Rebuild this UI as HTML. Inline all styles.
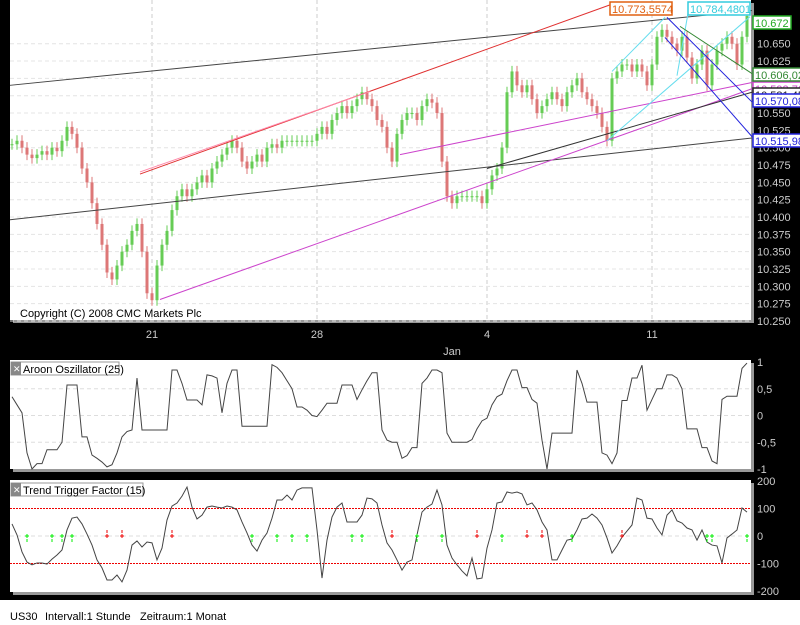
<!DOCTYPE html>
<html><head><meta charset="utf-8"><style>
html,body{margin:0;padding:0;background:#000;width:800px;height:625px;overflow:hidden;font-family:"Liberation Sans",sans-serif}
svg{display:block}
</style></head><body>
<svg id="chart" width="800" height="625" xmlns="http://www.w3.org/2000/svg" font-family="Liberation Sans, sans-serif">
<rect x="0" y="0" width="800" height="625" fill="#000"/>
<rect x="0" y="600" width="800" height="25" fill="#fff"/>
<text x="10" y="620" font-size="11" fill="#000">US30</text>
<text x="45" y="620" font-size="11" fill="#000">Intervall:1 Stunde</text>
<text x="140" y="620" font-size="11" fill="#000">Zeitraum:1 Monat</text>
<g id="main"></g>
<g id="aroon"></g>
<g id="ttf"></g>
</svg>
<script>
const closes=[10.505,10.51,10.50,10.49,10.485,10.49,10.495,10.49,10.50,10.495,
10.51,10.53,10.52,10.50,10.47,10.45,10.42,10.39,10.36,10.32,
10.31,10.33,10.35,10.36,10.38,10.39,10.35,10.29,10.28,10.33,
10.36,10.38,10.41,10.43,10.44,10.43,10.44,10.45,10.46,10.45,
10.47,10.48,10.49,10.50,10.51,10.50,10.48,10.47,10.48,10.49,
10.48,10.50,10.505,10.50,10.51,10.51,10.51,10.51,10.51,10.51,
10.51,10.52,10.53,10.52,10.54,10.55,10.56,10.55,10.56,10.57,
10.58,10.57,10.56,10.54,10.53,10.50,10.48,10.52,10.54,10.55,
10.55,10.54,10.56,10.57,10.565,10.55,10.48,10.43,10.42,10.43,
10.43,10.43,10.43,10.43,10.42,10.44,10.46,10.47,10.50,10.58,
10.61,10.59,10.58,10.59,10.57,10.55,10.56,10.57,10.58,10.57,
10.56,10.58,10.59,10.60,10.58,10.57,10.56,10.55,10.53,10.51,
10.60,10.61,10.62,10.62,10.61,10.62,10.61,10.59,10.62,10.66,
10.67,10.66,10.65,10.64,10.66,10.63,10.60,10.62,10.64,10.59,
10.62,10.64,10.65,10.66,10.65,10.62,10.66,10.69];
const aroonValues=[0.35,0.2,0.05,-0.7,-1,-0.9,-0.9,-0.64,-0.64,-0.64,
-0.5,0.57,0.57,0.57,-0.4,-0.4,-0.74,-0.8,-0.87,-0.96,
-0.92,-0.7,-0.4,-0.3,-0.27,0.7,-0.27,-0.27,-0.27,-0.27,
-0.27,-0.27,0.85,0.85,0.6,0.29,0.29,0.29,0.2,0.76,
0.74,0.7,0.05,0.6,0.85,0.85,-0.2,-0.2,-0.2,-0.2,
-0.2,-0.2,0.95,0.9,0.8,0.65,0.5,0.16,0.16,0.1,
0,-0.02,0.1,0.23,0.23,0.23,0.57,0.57,0.57,0.3,
0.48,0.65,0.8,0.8,-0.27,-0.46,-0.5,-0.5,-0.8,-0.75,
-0.6,-0.6,0.6,0.7,0.85,0.85,0.8,-0.33,-0.5,-0.5,
-0.5,-0.5,-0.45,-0.25,-0.1,-0.05,0.2,0.35,0.4,0.65,
0.85,0.85,0.52,0.52,0.3,0.23,-0.46,-1,-0.33,-0.33,
-0.33,-0.33,-0.33,0.85,0.6,0.25,0.25,0.25,-0.7,-0.74,
-0.9,-0.7,0.28,0.28,0.7,0.7,0.94,0.1,0.3,0.5,
0.5,0.76,0.76,0.7,0.5,-0.25,-0.25,-0.25,-0.6,-0.6,
-0.85,-0.9,0.3,0.36,0.36,0.36,0.88,0.98];
const ttfValues=[44,4,-58,-95,-105,-98,-98,-102,-84,-69,
-51,22,65,69,44,7,-33,-87,-116,-160,
-160,-142,-167,-124,-33,-18,-40,-22,-25,-87,
-44,58,109,120,145,178,105,62,76,105,
109,105,102,109,105,95,51,11,-33,-55,
-15,11,65,131,131,149,131,167,175,175,
175,22,-153,-15,69,105,120,51,51,51,
76,138,135,120,40,-25,-51,-87,-124,-95,
-87,4,87,105,116,167,113,-33,-80,-105,
-127,-145,-80,-156,-153,-44,22,120,124,160,
156,160,153,113,120,95,51,22,-87,-87,
-51,-15,-11,22,62,65,80,65,40,-7,
-62,-36,-4,18,40,138,131,65,62,29,
4,76,95,55,47,29,22,-15,22,-22,
-33,-36,-98,-7,7,22,102,87];
const buySignals=[3,8,10,12,48,53,56,59,68,70,81,86,98,112,139,140,147];
const sellSignals=[19,22,32,76,93,103,106,122];
const priceTicks=["10.250","10.275","10.300","10.325","10.350","10.375","10.400","10.425","10.450","10.475","10.500","10.525","10.550","10.575","10.600","10.625","10.650"];
const aroonTicks=[1,0.5,0,-0.5,-1];
const aroonTickLabels=["1","0,5","0","-0,5","-1"];
const ttfTicks=[200,100,0,-100,-200];
const dateLabels=["21","28","4","11"];
const dateIdx=[28,61,95,128];
const trendLines=[
 [-0.4,10.59,148,10.698,"#444"],
 [-0.4,10.396,148,10.514,"#444"],
 [25.6,10.462,119.6,10.706,"#e03030"],
 [25.6,10.465,71.6,10.581,"#ff88aa"],
 [29.6,10.281,148,10.585,"#cc44cc"],
 [77.6,10.49,148,10.594,"#cc44cc"],
 [95,10.47,148,10.58,"#333"],
 [119,10.51,147.6,10.689,"#66ddee"],
 [120,10.61,130.6,10.688,"#66ddee"],
 [133,10.604,135.6,10.71,"#66ddee"],
 [131,10.688,148,10.566,"#2222dd"],
 [130.6,10.659,148,10.516,"#2222dd"],
 [133.6,10.675,148,10.607,"#338833"]
];
const NS="http://www.w3.org/2000/svg";
function mk(tag,attrs,parent){const e=document.createElementNS(NS,tag);for(const k in attrs)e.setAttribute(k,attrs[k]);parent.appendChild(e);return e;}
const X=i=>12+i*5;
const PL=10,PR=751;
const yP=v=>321-(v-10.25)/0.025*17.33;
const yA=v=>415.5-v*53.5;
const yT=v=>536-v*0.275;
const main=document.getElementById('main'),ar=document.getElementById('aroon'),tt=document.getElementById('ttf');
const svg=document.getElementById('chart');
function panel(g,y0,y1,name){
 let r=mk('rect',{x:PL,y:y0,width:PR-PL,height:y1-y0,fill:'#fff'},g);
 
 
 mk('rect',{x:PR,y:y0+3,width:3,height:y1-y0,fill:'#999'},g);
 mk('rect',{x:PL+3,y:y1,width:PR-PL,height:3,fill:'#999'},g);
}
panel(main,0,320,'price-panel');panel(ar,360,469,'aroon-panel');panel(tt,480,592,'ttf-panel');
dateIdx.forEach((d,k)=>{
 [[0,320],[360,469],[480,592]].forEach(([a,b])=>mk('line',{x1:X(d),x2:X(d),y1:a,y2:b,stroke:'#ccc','stroke-dasharray':'4,3'},main));
 let t=mk('text',{x:X(d),y:338,'font-size':11,fill:'#ccc','text-anchor':'middle'},svg);t.textContent=dateLabels[k];
 
 
});
let jan=mk('text',{x:452,y:355,'font-size':11,fill:'#ccc','text-anchor':'middle'},svg);jan.textContent='Jan';


priceTicks.forEach(s=>{const v=parseFloat(s);const y=yP(v);
 mk('line',{x1:PL,x2:PR,y1:y,y2:y,stroke:'#e4e4e4','stroke-dasharray':'4,3'},main);
 let t=mk('text',{x:757,y:y+4,'font-size':11,fill:'#ccc'},svg);t.textContent=s;
 
 
});
closes.forEach((c,i)=>{const o=i?closes[i-1]:c;const hi=Math.max(o,c)+0.008,lo=Math.min(o,c)-0.008;
 const col=c>=o?'#66cc55':'#dd7777';const x=X(i);
 const g=mk('g',{},main);
 
 
 mk('line',{x1:x,x2:x,y1:yP(hi),y2:yP(lo),stroke:col},g);
 const y1=yP(Math.max(o,c)),y2=yP(Math.min(o,c));
 mk('rect',{x:x-1.5,y:y1,width:3,height:Math.max(1,y2-y1),fill:col},g);
});
trendLines.forEach(l=>{let e=mk('line',{x1:X(l[0]),y1:yP(l[1]),x2:X(l[2]),y2:yP(l[3]),stroke:l[4],'stroke-width':1},main);
 
 
});
let cp=mk('text',{x:20,y:317,'font-size':11,fill:'#000'},main);cp.textContent='Copyright (C) 2008 CMC Markets Plc';


function box(x,y,w,txt,col,name){const g=mk('g',{},svg);
 
 
 mk('rect',{x:x,y:y,width:w,height:13,fill:'#fff',stroke:col,'stroke-width':1.5},g);
 let t=mk('text',{x:x+2,y:y+11,'font-size':11,fill:col},g);t.textContent=txt;}
box(610,2,62,'10.773,5574','#e06010','red-line-value');
box(688,2,62,'10.784,4801','#33ccdd','cyan-line-value');
box(753,134,52,'10.515,98','#2222dd','blue-line-value-2');
box(753,82,52,'10.593,76','#cc44cc','magenta-line-value');
box(753,88,52,'10.581,45','#222','black-line-value');
box(753,94,52,'10.570,08','#2222dd','blue-line-value');
box(753,68,52,'10.606,02','#338833','green-line-value');
box(753,16,38,'10.672','#22aa22','last-price');
aroonTicks.forEach((v,k)=>{const y=yA(v);
 if(Math.abs(v)<1)mk('line',{x1:PL,x2:PR,y1:y,y2:y,stroke:'#ddd','stroke-dasharray':'4,3'},ar);
 let t=mk('text',{x:757,y:y+4,'font-size':11,fill:'#ccc'},svg);t.textContent=aroonTickLabels[k];
 
 
});
let ap=mk('polyline',{points:aroonValues.map((v,i)=>X(i)+','+yA(v)).join(' '),fill:'none',stroke:'#444','stroke-width':1},ar);


ttfTicks.forEach(v=>{const y=yT(v);
 if(Math.abs(v)===100)mk('line',{x1:PL,x2:PR,y1:y,y2:y,stroke:'#e00','stroke-dasharray':'2,1'},tt);
 if(v===0)mk('line',{x1:PL,x2:PR,y1:y,y2:y,stroke:'#ddd','stroke-dasharray':'4,3'},tt);
 let t=mk('text',{x:757,y:y+4,'font-size':11,fill:'#ccc'},svg);t.textContent=String(v);
 
 
});
let tp=mk('polyline',{points:ttfValues.map((v,i)=>X(i)+','+yT(v)).join(' '),fill:'none',stroke:'#444','stroke-width':1},tt);


function sig(i,col,name){const x=X(i),y=yT(0);const g=mk('g',{stroke:col,'stroke-width':1},tt);
 
 
 mk('line',{x1:x-2,x2:x+2,y1:y,y2:y},g);mk('line',{x1:x,x2:x,y1:y-2,y2:y+2},g);
 mk('line',{x1:x,x2:x,y1:col==='#00ee00'?y+3:y-6,y2:col==='#00ee00'?y+6:y-3,'stroke-width':1},g);}
buySignals.forEach(i=>sig(i,'#00ee00','buy-signal'));
sellSignals.forEach(i=>sig(i,'#ee0000','sell-signal'));
function title(g,y,txt,w,name){const gg=mk('g',{},g);
 
 
 mk('rect',{x:11,y:y,width:w,height:13,fill:'#fff',stroke:'#999'},gg);
 mk('rect',{x:11,y:y,width:10,height:13,fill:'#888'},gg);
 let x=mk('text',{x:13,y:y+10,'font-size':9,fill:'#fff'},gg);x.textContent='✕';
 let t=mk('text',{x:23,y:y+11,'font-size':11,fill:'#000'},gg);t.textContent=txt;}
title(ar,362,'Aroon Oszillator (25)',108,'aroon-title');
title(tt,483,'Trend Trigger Factor (15)',132,'ttf-title');
</script>
</body></html>
